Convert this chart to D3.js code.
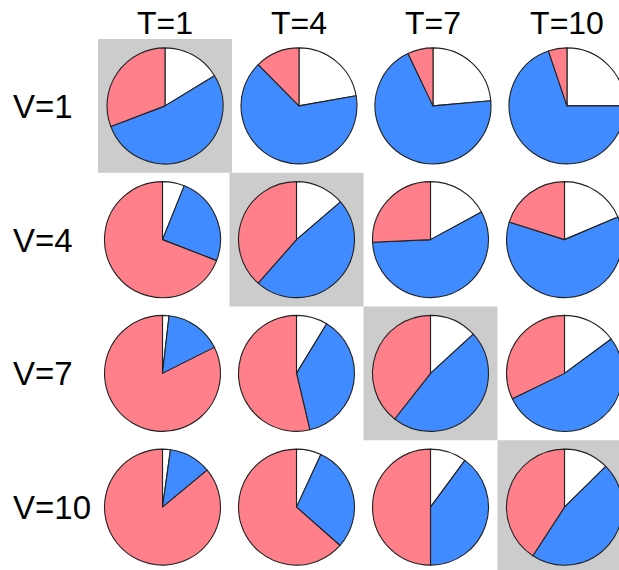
<!DOCTYPE html>
<html>
<head>
<meta charset="UTF-8">
<title>Pie grid</title>
<script src="https://cdnjs.cloudflare.com/ajax/libs/d3/7.8.5/d3.min.js"></script>
<style>
  body { margin: 0; background: #fff; }
  text { font-family: "Liberation Sans", Arial, Helvetica, sans-serif; fill: #000; }
</style>
</head>
<body>
<div id="chart"></div>
<script>
var colLabels = ["T=1", "T=4", "T=7", "T=10"];
var rowLabels = ["V=1", "V=4", "V=7", "V=10"];

// shares in percent, one row per V, one column per T
var whiteShare = [
  [16.3, 22.2, 23.6, 25.0],
  [6.1, 13.7, 17.1, 18.6],
  [1.8, 8.7, 13.2, 14.9],
  [2.2, 6.9, 10.1, 12.6]
];
var blueShare = [
  [52.9, 65.4, 69.3, 69.8],
  [24.8, 47.8, 57.2, 61.3],
  [15.8, 37.6, 47.4, 52.9],
  [11.8, 29.6, 39.9, 46.6]
];
var pinkShare = [
  [30.8, 12.4, 7.1, 5.2],
  [69.1, 38.5, 25.7, 20.1],
  [82.4, 53.7, 39.4, 32.2],
  [86.0, 63.5, 50.0, 40.8]
];

var w = 619,
    h = 570,
    radius = 58,
    colors = ["#ffffff", "#3f8bff", "#ff808a"];

var x = d3.scaleBand().domain(colLabels).range([95.5, 631.5]);
var y = d3.scaleBand().domain(rowLabels).range([39, 574]);

// first row sits a little to the right in the original
function rowShift(j) { return j === 0 ? 2.5 : 0; }

var svg = d3.select("#chart")
  .append("svg")
  .attr("width", w)
  .attr("height", h);

var pie = d3.pie().sort(null).value(function(d) { return d; });
var arc = d3.arc().innerRadius(0).outerRadius(radius);

rowLabels.forEach(function(v, j) {
  colLabels.forEach(function(t, i) {
    var cx = x(t) + x.bandwidth() / 2 + rowShift(j),
        cy = y(v) + y.bandwidth() / 2;

    if (i === j) {
      svg.append("rect")
        .attr("x", x(t) + rowShift(j))
        .attr("y", y(v))
        .attr("width", x.bandwidth())
        .attr("height", y.bandwidth())
        .attr("fill", "#cccccc");
    }

    var g = svg.append("g").attr("transform", "translate(" + cx + "," + cy + ")");
    g.selectAll("path")
      .data(pie([whiteShare[j][i], blueShare[j][i], pinkShare[j][i]]))
      .enter()
      .append("path")
      .attr("d", arc)
      .attr("fill", function(d, k) { return colors[k]; })
      .attr("stroke", "#222")
      .attr("stroke-width", 1.1)
      .attr("stroke-linejoin", "round");
  });
});

svg.selectAll("text.col")
  .data(colLabels)
  .enter()
  .append("text")
  .attr("class", "col")
  .attr("x", function(d) { return x(d) + x.bandwidth() / 2 + rowShift(0); })
  .attr("y", 34)
  .attr("text-anchor", "middle")
  .attr("font-size", 32)
  .text(function(d) { return d; });

svg.selectAll("text.row")
  .data(rowLabels)
  .enter()
  .append("text")
  .attr("class", "row")
  .attr("x", 13)
  .attr("y", function(d) { return y(d) + y.bandwidth() / 2 + 12; })
  .attr("font-size", 33)
  .text(function(d) { return d; });
</script>
</body>
</html>
